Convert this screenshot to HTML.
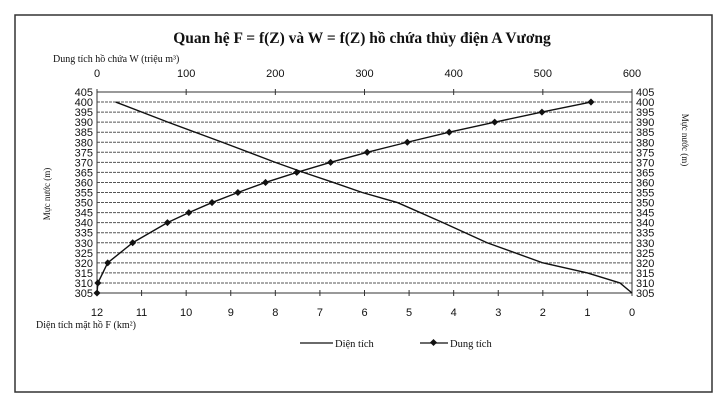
<!DOCTYPE html>
<html><head><meta charset="utf-8"><style>
html,body{margin:0;padding:0;background:#fff;}
svg{display:block;}
text{font-family:"Liberation Sans",sans-serif;fill:#111;}
.serif{font-family:"Liberation Serif",serif;}
</style></head><body>
<svg id="chart" width="722" height="409" viewBox="0 0 722 409">
<rect x="15" y="15" width="697" height="377" fill="#fff" stroke="#333" stroke-width="1.5"/>
<text class="serif" x="362" y="43" text-anchor="middle" font-size="15.5" font-weight="bold">Quan hệ F = f(Z) và W = f(Z) hồ chứa thủy điện A Vương</text>
<text class="serif" x="53" y="62" font-size="10">Dung tích hồ chứa W (triệu m³)</text>
<text class="serif" x="36" y="328" font-size="10">Diện tích mặt hồ F (km²)</text>
<text class="serif" x="0" y="0" font-size="9" transform="translate(50,194) rotate(-90)" text-anchor="middle">Mực nước (m)</text>
<text class="serif" x="0" y="0" font-size="9" transform="translate(682,140) rotate(90)" text-anchor="middle">Mực nước (m)</text>
<g id="grid"></g><g id="axes"></g><g id="series"></g>
<g>
<line x1="300" y1="343" x2="333" y2="343" stroke="#111" stroke-width="1.3"/>
<text class="serif" x="335" y="347" font-size="10.5">Diện tích</text>
<line x1="420" y1="343" x2="448" y2="343" stroke="#111" stroke-width="1.3"/>
<rect x="431" y="340" width="5" height="5" transform="rotate(45 433.5 342.5)" fill="#111"/>
<text class="serif" x="450" y="347" font-size="10.5">Dung tích</text>
</g>
</svg>
<script>
const levelTicks=[305,310,315,320,325,330,335,340,345,350,355,360,365,370,375,380,385,390,395,400,405];
const areaTicks=[12,11,10,9,8,7,6,5,4,3,2,1,0];
const volumeTicks=[0,100,200,300,400,500,600];
const areaZ=[400,390,380,370,365,360,355,350,340,330,320,315,310,305];
const areaF=[11.58,10.41,9.19,8.0,7.37,6.7,6.05,5.26,4.24,3.25,2.0,1.0,0.27,0];
const volZ=[305,310,320,330,340,345,350,355,360,365,370,375,380,385,390,395,400];
const volW=[0,1,12,40,79,103,129,158,189,224,262,303,348,395,446,499,554];
const L=97,R=632,T=92,B=293;
const yS=z=>B-(z-305)/100*(B-T);
const fS=f=>R-f/12*(R-L);
const wS=w=>L+w/600*(R-L);
const NS='http://www.w3.org/2000/svg';
function mk(tag,at,parent){const e=document.createElementNS(NS,tag);for(const k in at)e.setAttribute(k,at[k]);parent.appendChild(e);return e;}
const grid=document.getElementById('grid'),axes=document.getElementById('axes'),ser=document.getElementById('series');
levelTicks.forEach(z=>{
 const g=mk('line',{x1:L,x2:R,y1:yS(z),y2:yS(z),stroke:'#555','stroke-width':1,'stroke-dasharray':'3,1'},grid);
 
 
 const t1=mk('text',{x:L-4,y:yS(z)+4,'text-anchor':'end','font-size':11},axes);t1.textContent=z;
 
 
 const t2=mk('text',{x:R+4,y:yS(z)+4,'font-size':11},axes);t2.textContent=z;
 
 
});
[[L,T,L,B],[R,T,R,B],[L,T,R,T],[L,B,R,B]].forEach(a=>{const l=mk('line',{x1:a[0],y1:a[1],x2:a[2],y2:a[3],stroke:'#333','stroke-width':1},axes);
 
 });
areaTicks.forEach(f=>{
 const t=mk('text',{x:fS(f),y:316,'text-anchor':'middle','font-size':11},axes);t.textContent=f;
 
 
 mk('line',{x1:fS(f),x2:fS(f),y1:B-3,y2:B+3,stroke:'#333'},axes);
});
volumeTicks.forEach(w=>{
 const t=mk('text',{x:wS(w),y:77,'text-anchor':'middle','font-size':11},axes);t.textContent=w;
 
 
 mk('line',{x1:wS(w),x2:wS(w),y1:T-3,y2:T+3,stroke:'#333'},axes);
});
const p1=mk('polyline',{points:areaZ.map((z,i)=>fS(areaF[i])+','+yS(z)).join(' '),fill:'none',stroke:'#111','stroke-width':1.4,'stroke-linejoin':'round'},ser);


const p2=mk('polyline',{points:volZ.map((z,i)=>wS(volW[i])+','+yS(z)).join(' '),fill:'none',stroke:'#111','stroke-width':1.4,'stroke-linejoin':'round'},ser);


volZ.forEach((z,i)=>{const x=wS(volW[i]),y=yS(z);
 const m=mk('rect',{x:x-2.5,y:y-2.5,width:5,height:5,fill:'#111',transform:`rotate(45 ${x} ${y})`},ser);
 
 });
</script>
</body></html>
